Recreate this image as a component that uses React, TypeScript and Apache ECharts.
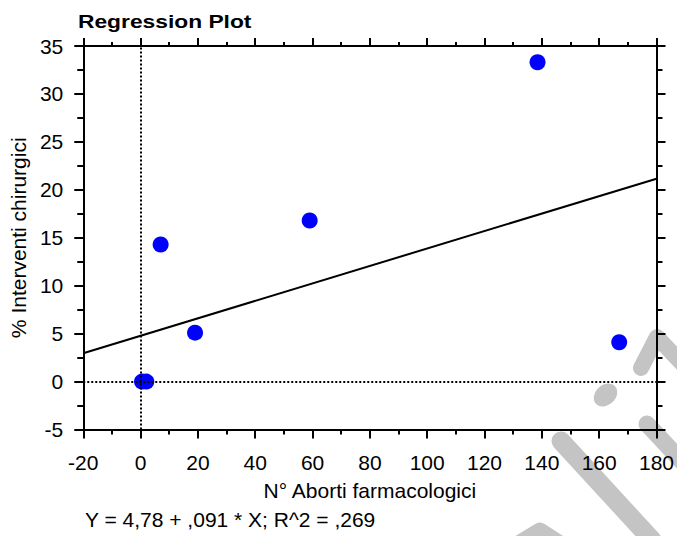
import React, { useEffect, useRef } from "react";
import * as echarts from "echarts";

// ---- data ----
const abortiX = [0.5, 2, 7, 19, 59, 138.5, 167];
const interventiY = [0, 0, 14.3, 5.1, 16.8, 33.3, 4.1];

const X_MIN = -20;
const X_MAX = 180;
const X_STEP = 20;
const Y_MIN = -5;
const Y_MAX = 35;
const Y_STEP = 5;

const regIntercept = 4.78;
const regSlope = 0.091;

const titleText = "Regression Plot";
const xName = "N° Aborti farmacologici";
const yName = "% Interventi chirurgici";
const equationText = "Y = 4,78 + ,091 * X; R^2 = ,269";

const FONT = "'Liberation Sans', Arial, sans-serif";
const BLACK = "#000000";
const WM = "#c4c4c4";

export default function App() {
  const ref = useRef<HTMLDivElement>(null);

  useEffect(() => {
    if (!ref.current) return;
    const chart = echarts.init(ref.current, null, { renderer: "svg" });

    const points = abortiX.map((x, i) => [x, interventiY[i]]);
    const regLine = [
      [X_MIN, regIntercept + regSlope * X_MIN],
      [X_MAX, regIntercept + regSlope * X_MAX],
    ];

    const lineStyle = { color: BLACK, width: 2 };
    const label = { fontFamily: FONT, fontSize: 21, color: BLACK };

    const wmLine = (pts: number[][], w: number) => ({
      type: "polyline",
      z: -10,
      silent: true,
      shape: { points: pts },
      style: { stroke: WM, lineWidth: w, fill: null, lineCap: "round", lineJoin: "round" },
    });

    const option: any = {
      animation: false,
      backgroundColor: "#ffffff",
      grid: { left: 82, right: 19, top: 46, bottom: 106.5, containLabel: false },
      xAxis: [
        {
          type: "value",
          position: "bottom",
          min: X_MIN,
          max: X_MAX,
          interval: X_STEP,
          name: xName,
          nameLocation: "middle",
          nameGap: 50,
          nameTextStyle: { ...label },
          axisLine: { show: true, onZero: false, lineStyle },
          axisTick: { show: true, length: 9, lineStyle },
          minorTick: { show: true, splitNumber: 2, length: 5, lineStyle },
          axisLabel: { ...label, margin: 22 },
          splitLine: { show: false },
          minorSplitLine: { show: false },
        },
        {
          type: "value",
          position: "top",
          min: X_MIN,
          max: X_MAX,
          interval: X_STEP,
          axisLine: { show: true, onZero: false, lineStyle },
          axisTick: { show: true, length: 8, lineStyle },
          minorTick: { show: true, splitNumber: 2, length: 4, lineStyle },
          axisLabel: { show: false },
          splitLine: { show: false },
        },
      ],
      yAxis: [
        {
          type: "value",
          position: "left",
          min: Y_MIN,
          max: Y_MAX,
          interval: Y_STEP,
          name: yName,
          nameLocation: "middle",
          nameGap: 46,
          nameTextStyle: { ...label },
          axisLine: { show: true, onZero: false, lineStyle },
          axisTick: { show: true, length: 9, lineStyle },
          minorTick: { show: true, splitNumber: 2, length: 6, lineStyle },
          axisLabel: { ...label, margin: 20 },
          splitLine: { show: false },
          minorSplitLine: { show: false },
        },
        {
          type: "value",
          position: "right",
          min: Y_MIN,
          max: Y_MAX,
          interval: Y_STEP,
          axisLine: { show: true, onZero: false, lineStyle },
          axisTick: { show: true, length: 9, lineStyle },
          minorTick: { show: true, splitNumber: 2, length: 6, lineStyle },
          axisLabel: { show: false },
          splitLine: { show: false },
        },
      ],
      series: [
        {
          type: "line",
          xAxisIndex: 0,
          yAxisIndex: 0,
          data: regLine,
          showSymbol: false,
          symbol: "none",
          lineStyle: { color: BLACK, width: 2 },
          z: 2,
          silent: true,
        },
        {
          type: "scatter",
          xAxisIndex: 0,
          yAxisIndex: 0,
          data: points,
          symbol: "circle",
          symbolSize: 16,
          itemStyle: { color: "#0000ff", opacity: 1 },
          z: 3,
          markLine: {
            silent: true,
            symbol: ["none", "none"],
            label: { show: false },
            lineStyle: { color: BLACK, width: 2, type: [2, 2], opacity: 1 },
            data: [{ xAxis: 0 }, { yAxis: 0 }],
          },
        },
      ],
      graphic: [
        {
          type: "text",
          x: 78,
          y: 12,
          scaleX: 1.2,
          style: {
            text: titleText,
            font: `bold 19px ${FONT}`,
            fill: BLACK,
            align: "left",
            verticalAlign: "top",
            textAlign: "left",
            textVerticalAlign: "top",
          },
        },
        {
          type: "text",
          x: 85,
          y: 509,
          style: {
            text: equationText,
            font: `21px ${FONT}`,
            fill: BLACK,
            align: "left",
            verticalAlign: "top",
            textAlign: "left",
            textVerticalAlign: "top",
          },
        },
        {
          type: "ellipse",
          z: -10,
          silent: true,
          x: 605.5,
          y: 395,
          rotation: 0.75,
          shape: { cx: 0, cy: 0, rx: 13, ry: 10 },
          style: { fill: WM },
        },
        wmLine([[561, 441], [652, 540]], 19),
        wmLine([[647, 424], [690, 470]], 17),
        wmLine([[641, 368], [657, 337], [690, 372]], 16),
        wmLine([[512, 548], [540, 531], [566, 548]], 17),
      ],
    };

    chart.setOption(option);
    return () => chart.dispose();
  }, []);

  return (
    <div
      ref={ref}
      style={{ position: "absolute", left: 0, top: 0, width: 677, height: 536 }}
    />
  );
}
